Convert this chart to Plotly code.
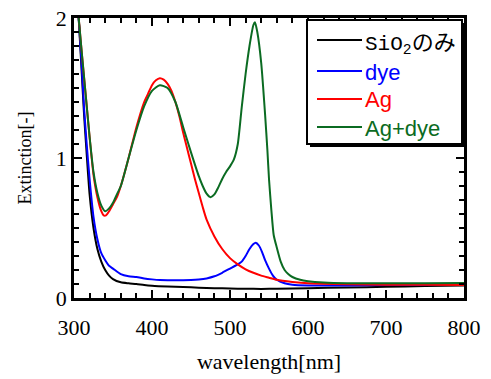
import plotly.graph_objects as go

# ---------------- data ----------------
wl_sio2 = [306, 310, 313, 316, 320, 325, 330, 335, 340, 345, 350, 360, 370, 380, 390, 400,
           420, 440, 460, 480, 500, 520, 540, 560, 600, 650, 700, 750, 800]
ext_sio2 = [2.0, 1.6, 1.3, 1.05, 0.74, 0.5, 0.35, 0.26, 0.2, 0.16, 0.135, 0.112, 0.105, 0.1, 0.093, 0.088,
            0.082, 0.078, 0.074, 0.07, 0.068, 0.066, 0.065, 0.066, 0.07, 0.075, 0.08, 0.085, 0.09]

wl_dye = [306, 310, 313, 316, 320, 325, 330, 335, 340, 345, 350, 360, 370, 380, 390, 400, 410, 420,
          430, 440, 450, 460, 470, 480, 490, 500, 505, 510, 515, 520, 525, 530, 533, 537, 541, 545,
          550, 555, 560, 570, 580, 600, 650, 700, 750, 800]
ext_dye = [2.0, 1.65, 1.35, 1.12, 0.85, 0.58, 0.42, 0.32, 0.27, 0.23, 0.21, 0.17, 0.155, 0.15, 0.14,
           0.133, 0.128, 0.127, 0.127, 0.127, 0.128, 0.132, 0.14, 0.155, 0.18, 0.21, 0.225, 0.24, 0.26,
           0.3, 0.35, 0.385, 0.395, 0.375, 0.33, 0.27, 0.21, 0.16, 0.13, 0.105, 0.095, 0.09, 0.09,
           0.092, 0.095, 0.1]

wl_ag = [306, 310, 315, 320, 325, 330, 335, 338, 341, 345, 350, 355, 360, 370, 380, 390, 395, 400,
         405, 410, 415, 420, 425, 430, 435, 440, 445, 450, 455, 460, 465, 470, 480, 490, 500, 510,
         520, 530, 540, 550, 560, 580, 600, 650, 700, 750, 800]
ext_ag = [2.0, 1.75, 1.45, 1.15, 0.88, 0.72, 0.62, 0.59, 0.59, 0.62, 0.67, 0.72, 0.8, 1.0, 1.22,
          1.4, 1.46, 1.52, 1.555, 1.57, 1.56, 1.53, 1.48, 1.4, 1.3, 1.18, 1.07, 0.96, 0.85, 0.75,
          0.65, 0.56, 0.44, 0.35, 0.285, 0.24, 0.205, 0.18, 0.16, 0.145, 0.13, 0.115, 0.105, 0.098,
          0.095, 0.094, 0.093]

wl_agdye = [306, 310, 315, 320, 325, 330, 335, 340, 345, 350, 355, 360, 370, 380, 390, 400, 410,
            420, 430, 440, 450, 460, 465, 470, 475, 480, 485, 490, 495, 500, 505, 510, 515, 520,
            525, 530, 532, 535, 540, 545, 548, 550, 553, 556, 560, 565, 570, 575, 580, 590, 600,
            620, 650, 700, 750, 800]
ext_agdye = [2.0, 1.75, 1.45, 1.15, 0.9, 0.75, 0.66, 0.62, 0.64, 0.68, 0.74, 0.8, 1.0, 1.2, 1.37,
             1.48, 1.52, 1.5, 1.4, 1.22, 1.04, 0.87, 0.8, 0.745, 0.72, 0.74, 0.79, 0.85, 0.9, 0.94,
             0.99, 1.1, 1.36, 1.6, 1.8, 1.95, 1.97, 1.9, 1.68, 1.31, 1.05, 0.85, 0.63, 0.45, 0.36,
             0.26, 0.2, 0.17, 0.15, 0.13, 0.12, 0.11, 0.105, 0.105, 0.105, 0.107]

series_names = ['SiO2のみ', 'dye', 'Ag', 'Ag+dye']
series_colors = ['#000000', '#0000ff', '#ff0000', '#0b6b22']

x_ticks = [300, 400, 500, 600, 700, 800]
y_ticks = [0, 1, 2]

SERIF = 'Liberation Serif'
SANS = 'Liberation Sans'

# ---------------- figure ----------------
fig = go.Figure()
data = [(wl_sio2, ext_sio2), (wl_dye, ext_dye), (wl_ag, ext_ag), (wl_agdye, ext_agdye)]
for (xs, ys), name, col in zip(data, series_names, series_colors):
    fig.add_trace(go.Scatter(x=xs, y=ys, mode='lines', name=name, showlegend=False,
                             line=dict(color=col, width=2, shape='spline', smoothing=0.6)))

L, R, T, B = 74, 27, 18, 81
W, H = 491, 379
pw, ph = W - L - R, H - T - B


def px2paper(px, py):
    return (px - L) / pw, (H - B - py) / ph


# legend box with drop shadow
sx0, sy0 = px2paper(310, 23)
sx1, sy1 = px2paper(465, 147)
bx0, by0 = px2paper(307, 20)
bx1, by1 = px2paper(462, 144)
fig.add_shape(type='rect', xref='paper', yref='paper', x0=sx0, y0=sy1, x1=sx1, y1=sy0,
              fillcolor='black', line=dict(width=0), layer='above')
fig.add_shape(type='rect', xref='paper', yref='paper', x0=bx0, y0=by1, x1=bx1, y1=by0,
              fillcolor='white', line=dict(color='black', width=2), layer='above')

# legend entries (line sample + label)
entry_y = [40, 71, 99, 127]
for name, col, ey in zip(series_names, series_colors, entry_y):
    lx0, yy = px2paper(317, ey)
    lx1, _ = px2paper(362, ey)
    fig.add_shape(type='line', xref='paper', yref='paper', x0=lx0, x1=lx1, y0=yy, y1=yy,
                  line=dict(color=col, width=2), layer='above')
    tx, ty = px2paper(363, ey + 1)
    if name == 'SiO2のみ':
        text = ('<span style="font-family:\'Liberation Mono\';font-size:21px">SiO<sub>2</sub></span>'
                '<span style="font-family:\'Noto Sans CJK JP\'">のみ</span>')
    else:
        text = name
    fig.add_annotation(xref='paper', yref='paper', x=tx, y=ty, xanchor='left', yanchor='middle',
                       text=text, showarrow=False, font=dict(family=SANS, size=22, color=col))

axis_common = dict(showline=True, linecolor='black', linewidth=2.5, mirror='allticks',
                   ticks='inside', ticklen=8, tickwidth=2, tickcolor='black',
                   showgrid=False, zeroline=False, automargin=False,
                   tickfont=dict(family=SERIF, size=22, color='black'))

fig.update_layout(
    width=W, height=H,
    margin=dict(l=L, r=R, t=T, b=B),
    plot_bgcolor='white', paper_bgcolor='white',
    font=dict(family=SERIF, size=22, color='black'),
    showlegend=False,
    xaxis=dict(range=[300, 800], tickvals=x_ticks, ticktext=[str(v) for v in x_ticks],
               ticklabelstandoff=8,
               title=dict(text='wavelength[nm]', standoff=15,
                          font=dict(family=SERIF, size=22, color='black')),
               minor=dict(dtick=20, ticks='inside', ticklen=5, tickwidth=2, tickcolor='black'),
               **axis_common),
    yaxis=dict(range=[0, 2], tickvals=y_ticks, ticktext=[str(v) for v in y_ticks],
               title=dict(text='Extinction[-]', standoff=20,
                          font=dict(family=SERIF, size=18, color='black')),
               minor=dict(dtick=0.1, ticks='inside', ticklen=5, tickwidth=2, tickcolor='black'),
               **axis_common),
)

fig.write_html('out.html')
